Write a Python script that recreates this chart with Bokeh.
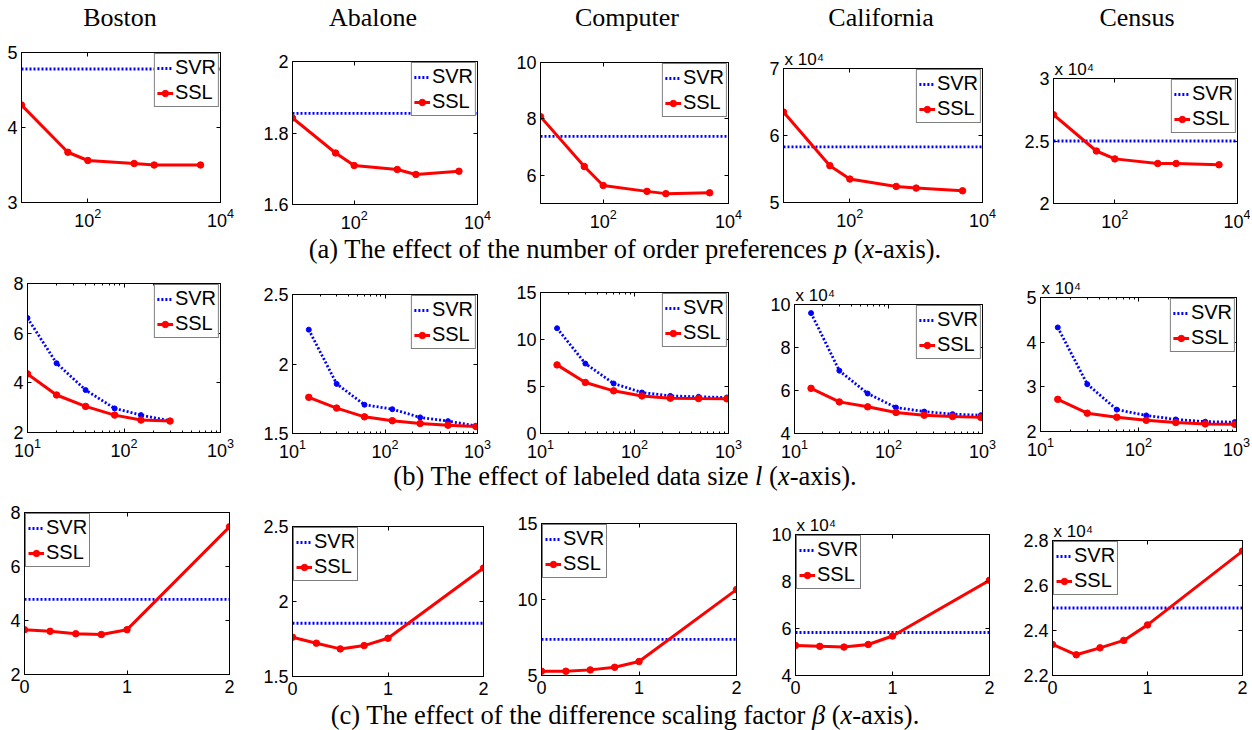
from bokeh.plotting import figure
from bokeh.layouts import row, column
from bokeh.models import (FixedTicker, PrintfTickFormatter, LogTickFormatter, Legend, LegendItem,
                          Title, LinearAxis, LogAxis, Range1d, Div, Spacer)
from bokeh.embed import file_html
from bokeh.resources import INLINE

TITLES = ["Boston", "Abalone", "Computer", "California", "Census"]
SCALED = [False, False, False, True, True]      # y shown in units of 10^4

# ---------------- (a) number of order preferences p ----------------
P_VALUES = [10, 50, 100, 500, 1000, 5000]
P_RANGE = [10, 10000]
P_TICKS = [100, 10000]
SVR_BASE = [4.78, 1.855, 7.38, 5.83, 2.50]
SSL_P_BOSTON = [4.30, 3.67, 3.56, 3.52, 3.50, 3.50]
SSL_P_ABALONE = [1.842, 1.744, 1.709, 1.698, 1.684, 1.693]
SSL_P_COMPUTER = [8.08, 6.31, 5.64, 5.43, 5.35, 5.38]
SSL_P_CALIFORNIA = [6.35, 5.55, 5.35, 5.24, 5.215, 5.175]
SSL_P_CENSUS = [2.71, 2.42, 2.357, 2.32, 2.32, 2.31]
Y_RANGE_A = [[3, 5], [1.6, 2], [5, 10], [5, 7], [2, 3]]
Y_TICKS_A = [[3, 4, 5], [1.6, 1.8, 2], [6, 8, 10], [5, 6, 7], [2, 2.5, 3]]

# ---------------- (b) labeled data size l ----------------
L_VALUES_BOSTON = [10, 20, 40, 80, 150, 300]
L_VALUES = [15, 30, 60, 120, 240, 480, 960]
L_RANGE = [10, 1000]
L_TICKS = [10, 100, 1000]
L_MINOR = [20, 30, 40, 50, 60, 70, 80, 90, 200, 300, 400, 500, 600, 700, 800, 900]
SVR_L_BOSTON = [6.61, 4.79, 3.71, 2.97, 2.70, 2.47]
SSL_L_BOSTON = [4.36, 3.51, 3.05, 2.70, 2.50, 2.46]
SVR_L_ABALONE = [2.247, 1.857, 1.707, 1.675, 1.616, 1.589, 1.555]
SSL_L_ABALONE = [1.760, 1.683, 1.620, 1.592, 1.572, 1.560, 1.550]
SVR_L_COMPUTER = [11.2, 7.44, 5.32, 4.36, 4.0, 3.9, 3.83]
SSL_L_COMPUTER = [7.30, 5.43, 4.54, 4.0, 3.76, 3.72, 3.69]
SVR_L_CALIFORNIA = [9.60, 6.92, 5.86, 5.21, 5.02, 4.90, 4.85]
SSL_L_CALIFORNIA = [6.10, 5.47, 5.24, 4.98, 4.85, 4.79, 4.75]
SVR_L_CENSUS = [4.33, 3.06, 2.49, 2.36, 2.27, 2.22, 2.21]
SSL_L_CENSUS = [2.72, 2.41, 2.32, 2.25, 2.20, 2.17, 2.16]
Y_RANGE_B = [[2, 8], [1.5, 2.5], [0, 15], [4, 10], [2, 5]]
Y_TICKS_B = [[2, 4, 6, 8], [1.5, 2, 2.5], [0, 5, 10, 15], [4, 6, 8, 10], [2, 3, 4, 5]]

# ---------------- (c) difference scaling factor beta ----------------
BETA = [0, 0.25, 0.5, 0.75, 1, 2]
BETA_RANGE = [0, 2]
BETA_TICKS = [0, 1, 2]
SSL_B_BOSTON = [3.66, 3.60, 3.51, 3.48, 3.66, 7.47]
SSL_B_ABALONE = [1.762, 1.722, 1.684, 1.706, 1.755, 2.223]
SSL_B_COMPUTER = [5.28, 5.28, 5.37, 5.54, 5.92, 10.65]
SSL_B_CALIFORNIA = [5.28, 5.24, 5.21, 5.32, 5.68, 8.05]
SSL_B_CENSUS = [2.338, 2.292, 2.323, 2.356, 2.425, 2.753]
Y_RANGE_C = [[2, 8], [1.5, 2.5], [5, 15], [4, 10], [2.2, 2.8]]
Y_TICKS_C = [[2, 4, 6, 8], [1.5, 2, 2.5], [5, 10, 15], [4, 6, 8, 10], [2.2, 2.4, 2.6, 2.8]]

CAPTIONS = [
    "(a) The effect of the number of order preferences <i>p</i> (<i>x</i>-axis).",
    "(b) The effect of labeled data size <i>l</i> (<i>x</i>-axis).",
    "(c) The effect of the difference scaling factor <i>&beta;</i> (<i>x</i>-axis).",
]

# ---------------- layout / style ----------------
FONT_SANS = "Liberation Sans"
FONT_SERIF = "Liberation Serif"
TICK_PX = "18px"
LEGEND_PX = "20px"
TOTAL_W = 1250
COL_EDGES = [0, 250, 505, 760, 1015, 1250]
TITLE_H = 31
TITLE_CENTER = [120, 373, 627, 881, 1137]
# frame boxes (page pixels) and vertical bands of each row
GEOM = {
    "a": dict(y0=31, t0=21, b0=30,
              left=[21, 292, 540, 783, 1053], right=[220, 477, 728, 982, 1237],
              top=[52, 61, 62, 68, 78], bottom=[202, 204, 203, 202, 203]),
    "b": dict(y0=262, t0=21, b0=30,
              left=[27, 292, 540, 794, 1040], right=[220, 477, 728, 982, 1236],
              top=[283, 294, 292, 304, 297], bottom=[432, 433, 433, 433, 431]),
    "c": dict(y0=490, t0=22, b0=26,
              left=[24, 292, 541, 795, 1052], right=[229, 483, 736, 989, 1242],
              top=[512, 526, 523, 534, 540], bottom=[674, 676, 675, 675, 675]),
}
CAPTION_BOX = [(28, 30), (27, 26), (27, 26)]   # (div height, line height)


def style_axis(ax, show):
    ax.axis_line_color = "black"
    ax.axis_line_width = 1
    ax.major_tick_in = 4
    ax.major_tick_out = 0
    ax.minor_tick_in = 2
    ax.minor_tick_out = 0
    ax.major_tick_line_color = "black"
    ax.minor_tick_line_color = "black"
    ax.major_label_text_font = FONT_SANS
    if show:
        ax.major_label_text_font_size = TICK_PX
        ax.major_label_text_color = "black"
    else:
        ax.major_label_text_font_size = "1px"
        ax.major_label_text_color = None
        ax.major_label_standoff = 0


def panel(key, i, xs, svr_y, ssl_y, x_range, x_ticks, x_minor,
          y_range, y_ticks, x_log, legend_loc, svr_marks):
    g = GEOM[key]
    c0, c1 = COL_EDGES[i], COL_EDGES[i + 1]
    fh = g["bottom"][i] - g["top"][i]
    spacer_h = g["top"][i] - g["y0"] - g["t0"]
    p = figure(width=c1 - c0, height=g["t0"] + fh + g["b0"],
               x_axis_type="log" if x_log else "linear",
               x_range=Range1d(*x_range), y_range=Range1d(*y_range),
               output_backend="svg", toolbar_location=None,
               min_border_left=g["left"][i] - c0, min_border_right=c1 - g["right"][i],
               min_border_top=g["t0"], min_border_bottom=g["b0"])
    p.grid.visible = False
    p.outline_line_color = "black"
    p.outline_line_width = 1
    p.background_fill_color = "white"
    p.border_fill_color = "white"

    xt = FixedTicker(ticks=x_ticks, minor_ticks=x_minor)
    yt = FixedTicker(ticks=y_ticks, minor_ticks=[])
    bx = p.xaxis[0]
    ly = p.yaxis[0]
    bx.ticker = xt
    ly.ticker = yt
    style_axis(bx, True)
    style_axis(ly, True)
    bx.major_label_standoff = 5
    ly.major_label_standoff = 4
    bx.formatter = LogTickFormatter() if x_log else PrintfTickFormatter(format="%g")
    ly.formatter = PrintfTickFormatter(format="%g")

    top = (LogAxis if x_log else LinearAxis)(ticker=xt)
    style_axis(top, False)
    p.add_layout(top, "above")
    right = LinearAxis(ticker=yt)
    style_axis(right, False)
    p.add_layout(right, "right")

    r_svr = p.line(svr_y[0], svr_y[1], line_color="#0000ff", line_width=2.8,
                   line_dash="2 2", line_cap="butt")
    if svr_marks:
        p.scatter(svr_y[0], svr_y[1], size=5, color="#0000ff")
    r_ssl = p.line(xs, ssl_y, line_color="#ff0000", line_width=3)
    r_pts = p.scatter(xs, ssl_y, size=6.5, color="#ff0000")

    leg = Legend(items=[LegendItem(label="SVR", renderers=[r_svr]),
                        LegendItem(label="SSL", renderers=[r_ssl, r_pts])],
                 location=legend_loc, margin=1, padding=2, spacing=2,
                 glyph_width=16, glyph_height=22, label_height=22, label_standoff=2,
                 label_text_font=FONT_SANS, label_text_font_size=LEGEND_PX,
                 label_text_color="black",
                 border_line_color="black", border_line_width=1,
                 background_fill_color="white", background_fill_alpha=1.0)
    p.add_layout(leg)

    if SCALED[i]:
        p.add_layout(Title(text="x 10⁴", align="left", offset=1, standoff=0,
                           text_font=FONT_SANS, text_font_size="17px",
                           text_font_style="normal", text_color="black"), "above")
    return column(Spacer(width=c1 - c0, height=max(spacer_h, 0)), p)


def caption(html, h, lh):
    return Div(text=html, width=TOTAL_W, height=h, margin=(0, 0, 0, 0),
               styles={"font-family": FONT_SERIF, "font-size": "26.5px",
                       "line-height": f"{lh}px", "text-align": "center",
                       "color": "black", "white-space": "nowrap", "overflow": "visible"})


title_html = "".join(
    f'<span style="position:absolute;left:{cx}px;top:5px;line-height:26px;'
    f'transform:translateX(-50%);white-space:nowrap;">{t}</span>'
    for cx, t in zip(TITLE_CENTER, TITLES))
title_strip = Div(text=f'<div style="position:relative;width:{TOTAL_W}px;height:{TITLE_H}px;">'
                       f'{title_html}</div>',
                  width=TOTAL_W, height=TITLE_H, margin=(0, 0, 0, 0),
                  styles={"font-family": FONT_SERIF, "font-size": "26px", "color": "black"})

SSL_P = [SSL_P_BOSTON, SSL_P_ABALONE, SSL_P_COMPUTER, SSL_P_CALIFORNIA, SSL_P_CENSUS]
SVR_L = [SVR_L_BOSTON, SVR_L_ABALONE, SVR_L_COMPUTER, SVR_L_CALIFORNIA, SVR_L_CENSUS]
SSL_L = [SSL_L_BOSTON, SSL_L_ABALONE, SSL_L_COMPUTER, SSL_L_CALIFORNIA, SSL_L_CENSUS]
SSL_B = [SSL_B_BOSTON, SSL_B_ABALONE, SSL_B_COMPUTER, SSL_B_CALIFORNIA, SSL_B_CENSUS]

row_a, row_b, row_c = [], [], []
for i in range(5):
    row_a.append(panel("a", i, P_VALUES, (P_RANGE, [SVR_BASE[i]] * 2), SSL_P[i],
                       P_RANGE, P_TICKS, [], Y_RANGE_A[i], Y_TICKS_A[i],
                       True, "top_right", False))
    lx = L_VALUES_BOSTON if i == 0 else L_VALUES
    row_b.append(panel("b", i, lx, (lx, SVR_L[i]), SSL_L[i],
                       L_RANGE, L_TICKS, L_MINOR, Y_RANGE_B[i], Y_TICKS_B[i],
                       True, "top_right", True))
    row_c.append(panel("c", i, BETA, (BETA_RANGE, [SVR_BASE[i]] * 2), SSL_B[i],
                       BETA_RANGE, BETA_TICKS, [], Y_RANGE_C[i], Y_TICKS_C[i],
                       False, "top_left", False))

layout = column(title_strip,
                row(*row_a), caption(CAPTIONS[0], *CAPTION_BOX[0]),
                row(*row_b), caption(CAPTIONS[1], *CAPTION_BOX[1]),
                row(*row_c), caption(CAPTIONS[2], *CAPTION_BOX[2]))

open("out.html", "w").write(file_html(layout, INLINE))
